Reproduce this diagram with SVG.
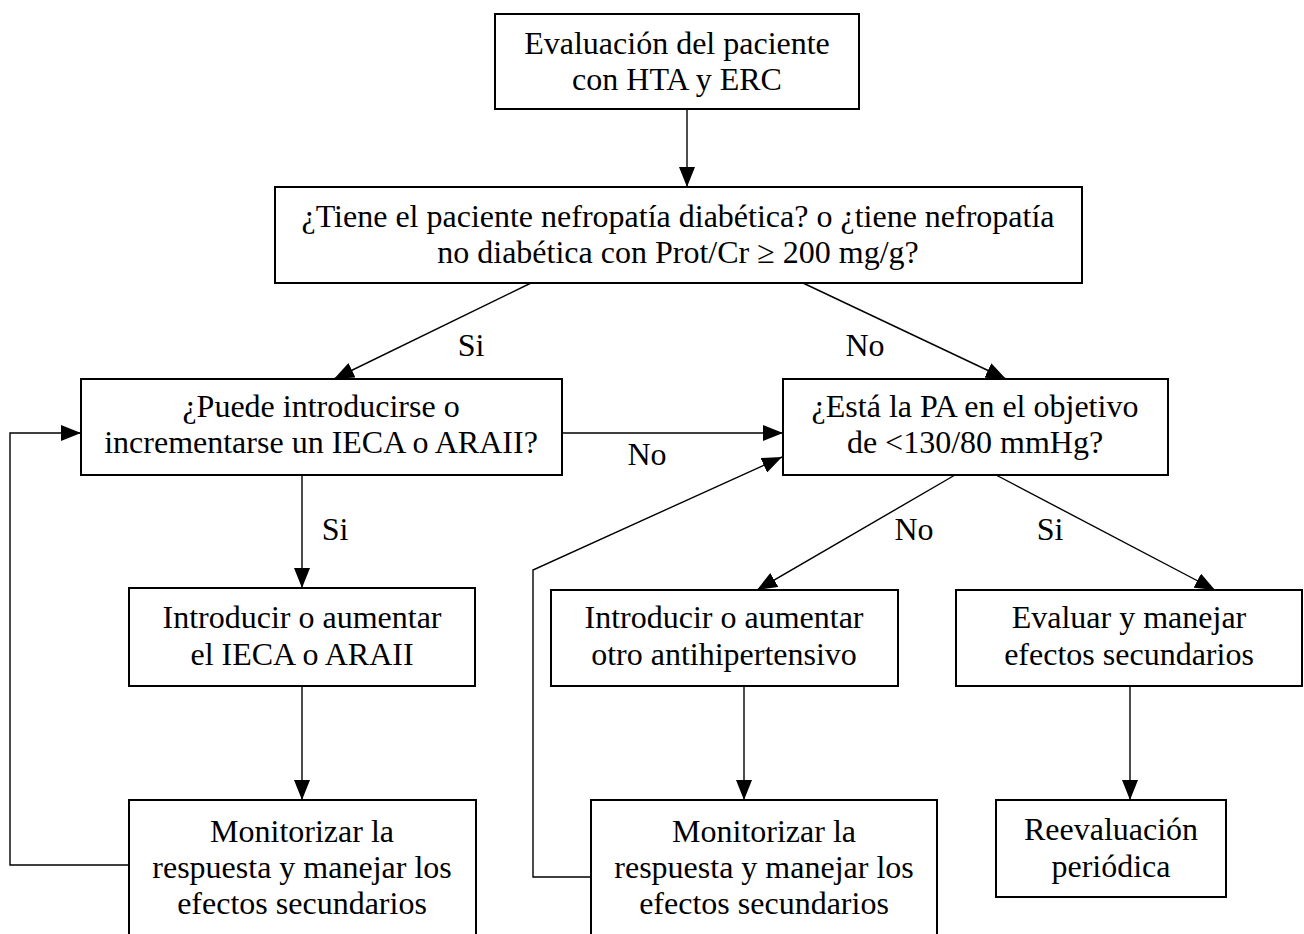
<svg xmlns="http://www.w3.org/2000/svg" width="1304" height="934" viewBox="0 0 1304 934">
<style>
.box{fill:#fff;stroke:#000;stroke-width:2}
.t{font-family:"Liberation Serif","Times New Roman",serif;font-size:32px;fill:#000;text-anchor:middle}
.c{fill:none;stroke:#000;stroke-width:1.4}
</style>
<defs>
<marker id="ah" markerUnits="userSpaceOnUse" markerWidth="20" markerHeight="16" refX="20" refY="8" orient="auto">
<path d="M0,0 L20,8 L0,16 z" fill="#000"/>
</marker>
</defs>
<rect width="1304" height="934" fill="#fff"/>
<g id="connectors">
<line class="c" x1="687" y1="109" x2="687" y2="187" marker-end="url(#ah)"/>
<line class="c" x1="531" y1="283" x2="334" y2="379" marker-end="url(#ah)"/>
<line class="c" x1="803" y1="283" x2="1006" y2="379" marker-end="url(#ah)"/>
<line class="c" x1="562" y1="433" x2="783" y2="433" marker-end="url(#ah)"/>
<line class="c" x1="302" y1="475" x2="302" y2="588" marker-end="url(#ah)"/>
<line class="c" x1="302" y1="686" x2="302" y2="800" marker-end="url(#ah)"/>
<polyline class="c" points="129,865 10,865 10,433 81,433" marker-end="url(#ah)"/>
<line class="c" x1="955" y1="475" x2="757" y2="590" marker-end="url(#ah)"/>
<line class="c" x1="996" y1="475" x2="1215" y2="590" marker-end="url(#ah)"/>
<line class="c" x1="744" y1="686" x2="744" y2="800" marker-end="url(#ah)"/>
<polyline class="c" points="591,877 533,877 533,570 782,457" marker-end="url(#ah)"/>
<line class="c" x1="1130" y1="686" x2="1130" y2="800" marker-end="url(#ah)"/>
<text class="t" x="471" y="356">Si</text>
<text class="t" x="865" y="356">No</text>
<text class="t" x="647" y="465">No</text>
<text class="t" x="335" y="540">Si</text>
<text class="t" x="914" y="540">No</text>
<text class="t" x="1050" y="540">Si</text>
</g>
<g id="n1">
<rect class="box" x="495" y="14" width="364" height="95"/>
<text class="t" x="677" y="54">Evaluación del paciente</text>
<text class="t" x="677" y="90">con HTA y ERC</text>
</g>
<g id="n2">
<rect class="box" x="275" y="187" width="807" height="96"/>
<text class="t" x="678" y="227">¿Tiene el paciente nefropatía diabética? o ¿tiene nefropatía</text>
<text class="t" x="678" y="263">no diabética con Prot/Cr ≥ 200 mg/g?</text>
</g>
<g id="n3">
<rect class="box" x="81" y="379" width="481" height="96"/>
<text class="t" x="321" y="417">¿Puede introducirse o</text>
<text class="t" x="321" y="453">incrementarse un IECA o ARAII?</text>
</g>
<g id="n4">
<rect class="box" x="783" y="379" width="385" height="96"/>
<text class="t" x="975" y="417">¿Está la PA en el objetivo</text>
<text class="t" x="975" y="453">de &lt;130/80 mmHg?</text>
</g>
<g id="n5">
<rect class="box" x="129" y="588" width="346" height="98"/>
<text class="t" x="302" y="628">Introducir o aumentar</text>
<text class="t" x="302" y="665">el IECA o ARAII</text>
</g>
<g id="n6">
<rect class="box" x="551" y="590" width="347" height="96"/>
<text class="t" x="724" y="628">Introducir o aumentar</text>
<text class="t" x="724" y="665">otro antihipertensivo</text>
</g>
<g id="n7">
<rect class="box" x="956" y="590" width="346" height="96"/>
<text class="t" x="1129" y="628">Evaluar y manejar</text>
<text class="t" x="1129" y="665">efectos secundarios</text>
</g>
<g id="n8">
<rect class="box" x="129" y="800" width="347" height="145"/>
<text class="t" x="302" y="842">Monitorizar la</text>
<text class="t" x="302" y="878">respuesta y manejar los</text>
<text class="t" x="302" y="914">efectos secundarios</text>
</g>
<g id="n9">
<rect class="box" x="591" y="800" width="346" height="145"/>
<text class="t" x="764" y="842">Monitorizar la</text>
<text class="t" x="764" y="878">respuesta y manejar los</text>
<text class="t" x="764" y="914">efectos secundarios</text>
</g>
<g id="n10">
<rect class="box" x="996" y="800" width="230" height="97"/>
<text class="t" x="1111" y="840">Reevaluación</text>
<text class="t" x="1111" y="877">periódica</text>
</g>
</svg>
